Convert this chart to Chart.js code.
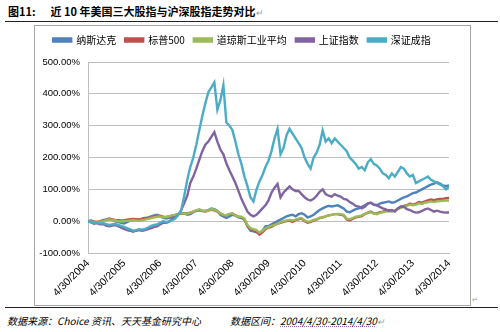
<!DOCTYPE html>
<html>
<head>
<meta charset="utf-8">
<script src="https://cdn.jsdelivr.net/npm/chart.js@4"></script>
<style>
  html, body { margin: 0; padding: 0; background: #fff; }
  #page { position: relative; width: 500px; height: 332px; overflow: hidden; font-family: "Noto Sans CJK SC", sans-serif; }
  #title { position: absolute; left: 8px; top: 3px; font-size: 11px; font-weight: bold; color: #000; white-space: pre; }
  .mark { color: #999; font-weight: normal; font-size: 9px; }
  .rule { position: absolute; left: 5px; width: 493px; height: 0; border-top: 1.5px solid #222; }
  #frame { position: absolute; left: 34px; top: 25px; width: 435px; height: 279px; border: 1px solid #a6a6a6; }
  #box { position: absolute; left: 35px; top: 18px; width: 434px; height: 286px; }
  .foot { position: absolute; top: 313px; font-size: 10px; font-style: italic; color: #000; white-space: pre; }
  .foot u { text-decoration: underline dotted #9a6ab0; }
</style>
</head>
<body>
<div id="page">
  <div id="title">图11:      近 10 年美国三大股指与沪深股指走势对比<span class="mark">↵</span></div>
  <div class="rule" style="top:21px"></div>
  <div id="frame"></div>
  <div id="box"><canvas id="c"></canvas></div>
  <span class="mark" style="position:absolute;left:472px;top:294px;font-size:7px">↵</span>
  <div class="rule" style="top:307px"></div>
  <div class="foot" style="left:7px">数据来源：Choice 资讯、天天基金研究中心</div>
  <div class="foot" style="left:230px">数据区间：<u>2004/4/30-2014/4/30</u><span class="mark">↵</span></div>
</div>
<script>
// monthly points, 2004/4/30 .. 2014/4/30 (121 values each), cumulative % change
const seriesNames = ['纳斯达克', '标普500', '道琼斯工业平均', '上证指数', '深证成指'];
const seriesColors = ['#4f81bd', '#c0504d', '#9bbb59', '#8064a2', '#4bacc6'];
const tickLabels = ['4/30/2004', '4/30/2005', '4/30/2006', '4/30/2007', '4/30/2008', '4/30/2009',
  '4/30/2010', '4/30/2011', '4/30/2012', '4/30/2013', '4/30/2014'];

const nasdaq = [0, 2, -2, -5, -3, 2, 5, 8, 5, 0, -3, -5, -7, -3, 2, 5, 6, 5, 8, 10, 12, 15, 18, 20, 15,
  10, 8, 10, 15, 18, 22, 24, 25, 20, 22, 28, 32, 35, 33, 32, 35, 40, 38, 32, 20, 15, 10, 15, 20, 18,
  12, 10, 5, -15, -30, -32, -35, -38, -30, -16, -15, -10, -5, 0, 5, 10, 15, 18, 20, 15, 22, 25, 20,
  12, 15, 20, 28, 35, 40, 45, 48, 46, 48, 50, 45, 40, 30, 28, 33, 38, 40, 45, 50, 55, 58, 52, 50,
  55, 58, 60, 62, 58, 60, 65, 70, 75, 78, 83, 88, 90, 95, 100, 105, 110, 115, 118, 122, 118, 112, 110, 112];
const sp500 = [0, 1, -1, -2, 0, 3, 5, 7, 6, 4, 3, 2, 3, 5, 6, 7, 6, 5, 7, 9, 10, 12, 14, 16, 17,
  14, 13, 15, 18, 20, 22, 24, 25, 24, 27, 30, 33, 35, 32, 30, 33, 36, 34, 30, 25, 20, 18, 22, 24, 18,
  14, 12, 5, -15, -25, -28, -32, -42, -35, -25, -20, -18, -12, -8, -5, -2, 0, 2, -2, 3, 6, 8, 0,
  -5, -2, 2, 5, 10, 12, 15, 18, 20, 22, 22, 20, 18, 5, 2, 8, 12, 14, 16, 22, 27, 30, 25, 24,
  28, 30, 33, 35, 32, 33, 40, 45, 48, 50, 55, 52, 55, 60, 58, 62, 65, 68, 66, 68, 70, 70, 72, 73];
const dow = [0, -1, -3, -4, -2, 0, 3, 5, 4, 2, 0, -1, 0, 1, 2, 3, 2, 1, 3, 5, 7, 10, 12, 14, 15,
  12, 13, 15, 18, 20, 22, 25, 24, 23, 27, 30, 34, 37, 33, 31, 34, 38, 36, 31, 24, 20, 18, 22, 25, 18,
  14, 14, 8, -12, -22, -25, -28, -36, -30, -22, -18, -15, -12, -8, -3, 0, 2, 4, 2, 5, 8, 10, 2,
  -2, 0, 4, 6, 10, 12, 15, 18, 20, 22, 23, 22, 20, 8, 6, 10, 14, 16, 18, 22, 26, 28, 24, 22,
  26, 28, 30, 32, 30, 32, 38, 42, 45, 48, 52, 50, 52, 56, 54, 58, 60, 62, 60, 62, 63, 64, 65, 65];
const shanghai = [0, -4, -8, -6, -10, -9, -14, -16, -14, -12, -16, -20, -24, -28, -30, -33, -30, -28, -30, -28, -25, -22, -18, -16, -10,
  -5, -5, -2, 8, 12, 20, 35, 57, 80, 120, 140, 165, 193, 220, 240, 250, 265, 280, 250, 225, 210, 182, 160, 140, 120,
  95, 70, 50, 30, 20, 15, 20, 30, 40, 50, 65, 90, 105, 117, 75, 90, 100, 109, 100, 95, 95, 85, 75,
  68, 65, 70, 80, 92, 100, 85, 80, 77, 85, 80, 77, 70, 68, 60, 55, 48, 46, 40, 45, 55, 58, 52, 50,
  45, 40, 37, 32, 35, 30, 40, 46, 45, 38, 35, 30, 27, 28, 32, 37, 40, 35, 30, 33, 30, 28, 27, 27];
const shenzhen = [0, -3, -5, -4, -7, -6, -9, -12, -10, -8, -12, -15, -18, -22, -26, -30, -28, -25, -27, -24, -20, -15, -12, -10, -5,
  0, -3, 0, 3, 8, 20, 35, 80, 130, 170, 200, 240, 286, 330, 370, 405, 420, 436, 350, 380, 427, 310, 300, 286, 250,
  210, 180, 140, 110, 75, 62, 99, 125, 145, 170, 190, 220, 260, 290, 210, 230, 270, 290, 275, 260, 245, 230, 200,
  180, 165, 200, 215, 240, 285, 250, 260, 245, 260, 250, 240, 230, 220, 200, 190, 180, 165, 170, 160, 185, 195, 180, 175,
  165, 150, 145, 135, 150, 140, 155, 170, 165, 150, 140, 145, 120, 125, 130, 135, 140, 130, 125, 120, 115, 110, 100, 108];

const allSeries = [nasdaq, sp500, dow, shanghai, shenzhen];

// leave a little room under the legend, like the Excel original
const legendGap = {
  id: 'legendGap',
  beforeInit(chart) {
    const fit = chart.legend.fit;
    chart.legend.fit = function () {
      fit.bind(chart.legend)();
      this.height += 7;
    };
  }
};

new Chart(document.getElementById('c'), {
  type: 'line',
  data: {
    datasets: allSeries.map((vals, k) => ({
      label: seriesNames[k],
      data: vals.map((v, i) => ({ x: i, y: v })),
      borderColor: seriesColors[k],
      backgroundColor: seriesColors[k],
      borderWidth: 2.4,
      pointRadius: 0,
      tension: 0,
      order: 5 - k
    }))
  },
  options: {
    responsive: true,
    maintainAspectRatio: false,
    animation: false,
    layout: { padding: { top: 8, right: 20, bottom: 0, left: 0 } },
    plugins: {
      tooltip: { enabled: false },
      legend: {
        position: 'top',
        labels: {
          boxWidth: 18,
          boxHeight: 3,
          padding: 9,
          color: '#000',
          font: { family: '"Noto Sans CJK SC", sans-serif', size: 10 },
          sort: (a, b) => a.datasetIndex - b.datasetIndex
        }
      }
    },
    scales: {
      x: {
        type: 'linear',
        min: 0,
        max: 120,
        afterFit: s => { s.height = 51; },
        afterBuildTicks: s => { s.ticks = tickLabels.map((t, i) => ({ value: i * 12 })); },
        grid: { display: false, drawTicks: false },
        border: { color: '#bfbfbf' },
        ticks: {
          autoSkip: false,
          minRotation: 45,
          maxRotation: 45,
          padding: 4,
          color: '#000',
          font: { family: '"Liberation Sans", Arial, sans-serif', size: 10.5 },
          callback: v => tickLabels[Math.round(v / 12)]
        }
      },
      y: {
        min: -100,
        max: 500,
        afterFit: s => { s.width = 53; },
        grid: { color: '#bfbfbf', drawTicks: false },
        border: { color: '#bfbfbf' },
        ticks: {
          stepSize: 100,
          padding: 8,
          color: '#000',
          font: { family: '"Liberation Sans", Arial, sans-serif', size: 9.5 },
          callback: v => v.toFixed(2) + '%'
        }
      }
    }
  },
  plugins: [legendGap]
});
</script>
</body>
</html>
